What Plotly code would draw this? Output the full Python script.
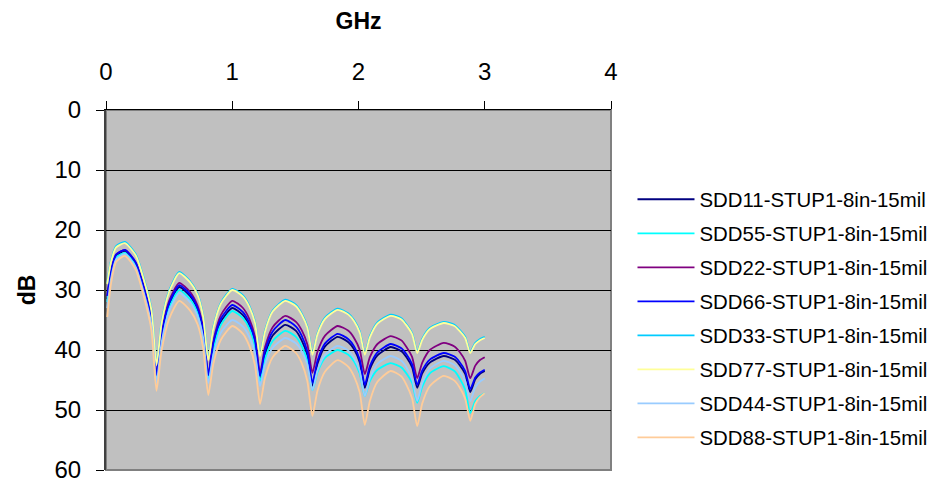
import plotly.graph_objects as go

freq_ghz = [0.01, 0.04, 0.08, 0.15, 0.235, 0.30, 0.36, 0.40,
            0.44, 0.50, 0.58, 0.665, 0.725, 0.77, 0.81,
            0.85, 0.91, 1.00, 1.085, 1.135, 1.18, 1.22,
            1.26, 1.32, 1.42, 1.505, 1.55, 1.595, 1.635,
            1.675, 1.735, 1.835, 1.92, 1.965, 2.01, 2.05,
            2.09, 2.15, 2.255, 2.34, 2.38, 2.425, 2.465,
            2.505, 2.565, 2.675, 2.76, 2.80, 2.845, 2.885,
            2.925, 2.96, 3.00]

sdd11 = [31.5, 27.1, 24.3, 23.5, 25.6, 29.8, 35.1, 44.5,
         37.8, 32.5, 29.5, 31.0, 33.3, 37.0, 44.5,
         39.3, 35.3, 33.0, 34.2, 36.0, 38.9, 44.8,
         40.8, 37.6, 35.8, 36.8, 38.4, 40.9, 46.0,
         42.3, 39.4, 37.8, 38.7, 39.9, 42.1, 46.3,
         43.2, 40.9, 39.5, 40.2, 41.2, 42.9, 46.3,
         43.9, 42.1, 41.0, 41.6, 42.5, 44.0, 47.0,
         44.9, 44.0, 43.5]

sdd55 = [32.0, 27.5, 24.6, 23.8, 25.9, 30.2, 35.5, 45.0,
         38.3, 33.0, 30.0, 31.5, 33.8, 37.5, 45.0,
         39.8, 35.8, 33.5, 34.7, 36.4, 39.4, 45.2,
         41.4, 38.5, 36.8, 37.8, 39.3, 41.8, 46.7,
         43.7, 41.3, 40.0, 40.8, 41.9, 43.9, 47.7,
         45.2, 43.3, 42.2, 42.9, 43.9, 45.5, 48.8,
         46.1, 43.9, 42.7, 43.5, 44.7, 46.6, 50.5,
         48.5, 47.7, 47.2]

sdd22 = [31.0, 26.8, 24.1, 23.3, 25.4, 29.5, 34.7, 44.0,
         37.2, 31.8, 28.8, 30.3, 32.6, 36.4, 44.0,
         38.5, 34.2, 31.8, 33.0, 34.8, 37.8, 43.8,
         39.5, 36.2, 34.3, 35.3, 36.7, 39.1, 43.8,
         40.3, 37.6, 36.0, 36.8, 38.0, 40.0, 44.0,
         41.2, 39.0, 37.7, 38.4, 39.5, 41.2, 44.7,
         42.1, 40.0, 38.8, 39.4, 40.3, 41.8, 44.7,
         42.6, 41.7, 41.2]

sdd66 = [31.0, 26.8, 24.1, 23.3, 25.4, 29.6, 34.8, 44.2,
         37.5, 32.2, 29.2, 30.7, 33.0, 36.7, 44.2,
         38.9, 34.8, 32.5, 33.7, 35.5, 38.4, 44.3,
         40.1, 36.9, 35.0, 36.1, 37.6, 40.3, 45.5,
         41.8, 38.9, 37.3, 38.2, 39.4, 41.6, 45.8,
         42.7, 40.4, 39.0, 39.7, 40.7, 42.4, 45.8,
         43.4, 41.6, 40.5, 41.1, 42.0, 43.5, 46.5,
         44.6, 43.8, 43.3]

sdd33 = [28.8, 25.1, 22.7, 22.0, 24.0, 28.1, 33.2, 42.3,
         35.4, 30.1, 27.0, 28.5, 30.6, 34.3, 41.5,
         36.2, 32.1, 29.8, 30.9, 32.6, 35.3, 40.8,
         36.7, 33.4, 31.6, 32.5, 33.9, 36.1, 40.6,
         37.2, 34.6, 33.1, 33.9, 35.0, 36.9, 40.6,
         37.7, 35.4, 34.1, 34.7, 35.7, 37.2, 40.3,
         38.1, 36.3, 35.3, 35.8, 36.6, 37.8, 40.3,
         38.8, 38.2, 37.8]

sdd77 = [29.0, 25.3, 22.9, 22.2, 24.2, 28.3, 33.4, 42.5,
         35.6, 30.3, 27.2, 28.7, 30.8, 34.5, 41.7,
         36.4, 32.3, 30.0, 31.1, 32.8, 35.5, 41.0,
         36.9, 33.6, 31.8, 32.7, 34.1, 36.3, 40.8,
         37.4, 34.8, 33.3, 34.1, 35.2, 37.1, 40.8,
         37.9, 35.6, 34.3, 34.9, 35.9, 37.4, 40.5,
         38.3, 36.5, 35.5, 36.0, 36.8, 38.0, 40.5,
         39.0, 38.4, 38.0]

sdd44 = [33.0, 28.1, 24.9, 24.0, 26.2, 30.5, 35.8, 45.5,
         38.8, 33.5, 30.5, 32.0, 34.3, 38.0, 45.5,
         40.8, 37.1, 35.0, 36.1, 37.8, 40.5, 46.0,
         42.4, 39.6, 38.0, 38.9, 40.2, 42.4, 46.7,
         43.4, 40.8, 39.3, 40.1, 41.4, 43.5, 47.7,
         44.7, 42.3, 41.0, 41.8, 42.9, 44.8, 48.5,
         45.5, 43.1, 41.8, 42.5, 43.5, 45.2, 48.5,
         46.2, 45.3, 44.7]

sdd88 = [34.5, 28.9, 25.3, 24.3, 26.6, 31.1, 36.7, 46.8,
         40.1, 34.8, 31.8, 33.4, 35.7, 39.7, 47.5,
         42.3, 38.3, 36.0, 37.3, 39.3, 42.5, 49.0,
         44.6, 41.2, 39.3, 40.5, 42.2, 45.2, 51.0,
         46.8, 43.6, 41.7, 42.8, 44.4, 47.1, 52.5,
         48.5, 45.3, 43.5, 44.4, 45.8, 48.1, 52.7,
         48.9, 46.0, 44.3, 45.1, 46.2, 48.1, 51.8,
         49.0, 47.9, 47.2]

series_names = ["SDD11-STUP1-8in-15mil", "SDD55-STUP1-8in-15mil",
                "SDD22-STUP1-8in-15mil", "SDD66-STUP1-8in-15mil",
                "SDD33-STUP1-8in-15mil", "SDD77-STUP1-8in-15mil",
                "SDD44-STUP1-8in-15mil", "SDD88-STUP1-8in-15mil"]
series_values = [sdd11, sdd55, sdd22, sdd66, sdd33, sdd77, sdd44, sdd88]
series_colors = ["#000080", "#00FFFF", "#800080", "#0000FF",
                 "#00CCFF", "#FFFF99", "#99CCFF", "#FFCC99"]

x_ticks = [0, 1, 2, 3, 4]
y_ticks = [0, 10, 20, 30, 40, 50, 60]

FONT = "Arial, Liberation Sans, sans-serif"

fig = go.Figure()
for name, vals, col in zip(series_names, series_values, series_colors):
    fig.add_trace(go.Scatter(
        x=freq_ghz, y=vals, name=name, mode="lines",
        line=dict(color=col, width=1.8, shape="spline", smoothing=0.6),
        legendgroup=name,
    ))

fig.update_layout(
    width=930, height=480,
    margin=dict(l=98, r=327, t=102, b=18),
    paper_bgcolor="white",
    plot_bgcolor="#C0C0C0",
    font=dict(family=FONT, color="black"),
    showlegend=True,
    legend=dict(
        xref="container", yref="container",
        x=0.6715, xanchor="left", y=0.3531, yanchor="middle",
        maxheight=460,
        font=dict(family=FONT, size=20.4, color="black"),
        tracegroupgap=4.5,
        bgcolor="rgba(0,0,0,0)",
        itemwidth=57,
    ),
    xaxis=dict(
        side="top", range=[0, 4], tickvals=x_ticks,
        ticks="outside", ticklen=8, tickcolor="black",
        showline=True, linecolor="black", linewidth=1,
        showgrid=False, zeroline=False, automargin=False,
        tickfont=dict(family=FONT, size=24),
        ticklabelstandoff=11,
        title=dict(text="<b>GHz</b>", font=dict(family=FONT, size=23), standoff=22),
    ),
    yaxis=dict(
        range=[60, 0], tickvals=y_ticks,
        ticks="outside", ticklen=8, tickcolor="black",
        showline=True, linecolor="#404040", linewidth=2,
        showgrid=True, gridcolor="black", gridwidth=1,
        zeroline=False, automargin=False,
        tickfont=dict(family=FONT, size=24),
        ticklabelstandoff=10,
        title=dict(text="<b>dB</b>", font=dict(family=FONT, size=23), standoff=12),
    ),
)

fig.add_shape(type="rect", xref="paper", yref="paper", x0=0, y0=0, x1=1, y1=1,
              line=dict(color="#808080", width=2), layer="below")

fig.write_html("out.html")
